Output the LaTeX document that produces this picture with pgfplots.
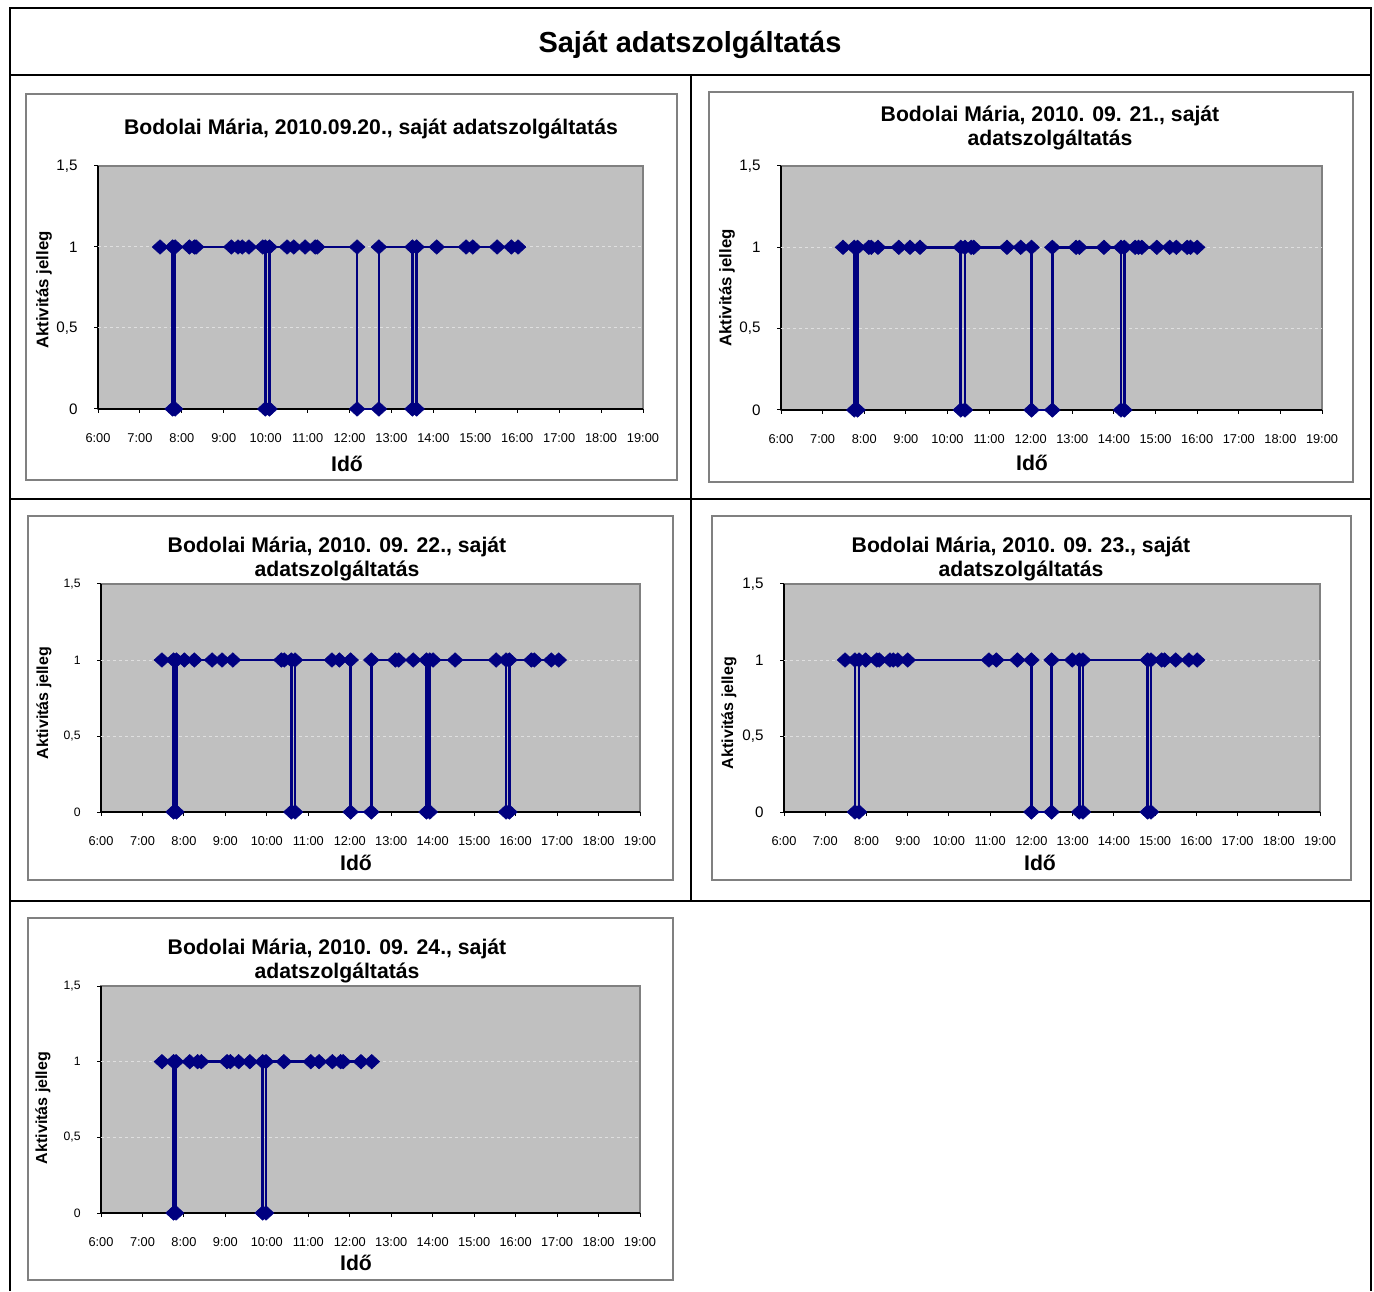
\documentclass[border=0pt]{standalone}
\usepackage{fontspec}
\setmainfont{Liberation Sans}
\usepackage{pgfplots}
\pgfplotsset{compat=1.18}
\definecolor{navy}{HTML}{000080}
\definecolor{plotgray}{HTML}{C0C0C0}
\definecolor{bordergray}{HTML}{808080}
\pgfplotsset{
  chart/.style={
    scale only axis,
    anchor=south west,
    clip=false,
    xmin=6, xmax=19, ymin=0, ymax=1.5,
    axis lines=left,
    axis line style={-, black, line width=0.7pt},
    axis background/.style={fill=plotgray, draw=bordergray, line width=1pt},
    xtick={6,7,8,9,10,11,12,13,14,15,16,17,18,19},
    xticklabels={6:00,7:00,8:00,9:00,10:00,11:00,12:00,13:00,14:00,15:00,16:00,17:00,18:00,19:00},
    ytick={0,0.5,1,1.5},
    yticklabels={0,{0,5},1,{1,5}},
    extra y ticks={0.5,1},
    extra y tick labels={},
    extra y tick style={ymajorgrids=true, major tick length=0pt},
    grid style={draw=white!75!gray, line width=0.5pt, dash pattern=on 1.5pt off 1.5pt},
    tick align=outside,
    major tick length=2pt,
    tick style={black, line width=0.5pt},
    /pgf/number format/assume math mode=true,
    xticklabel style={font=\fontsize{6.4}{7}\selectfont, anchor=center, yshift=-12.5pt},
  },
  bigy/.style={yticklabel style={font=\fontsize{7.6}{9}\selectfont, anchor=east, inner sep=0pt, xshift=-8pt}},
  smally/.style={yticklabel style={font=\fontsize{6.1}{7}\selectfont, anchor=east, inner sep=0pt, xshift=-8pt}},
  series/.style={navy, line width=1.3pt, mark=diamond*, mark size=3.6pt,
    mark options={xscale=1.45, solid, line width=0.3pt, fill=navy, draw=navy}},
}
\begin{document}
\begin{tikzpicture}[x=0.5pt, y=0.5pt]
\useasboundingbox (0,0) rectangle (1374,1291);
\coordinate (A1) at (98,882);
\coordinate (A2) at (781,881);
\coordinate (A3) at (101,479);
\coordinate (A4) at (784,479);
\coordinate (A5) at (101,78);
% table frame
\draw[black, line width=1pt] (10,0) -- (10,1283) -- (1371,1283) -- (1371,0);
\draw[black, line width=1pt] (10,1216) -- (1371,1216);
\draw[black, line width=1pt] (10,792) -- (1371,792);
\draw[black, line width=1pt] (10,390) -- (1371,390);
\draw[black, line width=1pt] (691,1216) -- (691,390);
\node[font=\bfseries\fontsize{14.5}{17}\selectfont] at (690,1246) {Saját adatszolgáltatás};
% chart boxes
\draw[bordergray, line width=0.7pt] (26,811) rectangle (677,1197);
\draw[bordergray, line width=0.7pt] (709,809) rectangle (1353,1199);
\draw[bordergray, line width=0.7pt] (28,411) rectangle (673,775);
\draw[bordergray, line width=0.7pt] (712,411) rectangle (1351,775);
\draw[bordergray, line width=0.7pt] (28,11) rectangle (673,373);

% ---- Chart 1 ----
\begin{axis}[chart, bigy, at={(A1)}, width=272.5pt, height=121.5pt]
\addplot[series] coordinates {
(7.48,1) (7.78,1) (7.78,0) (7.84,0) (7.84,1) (8.18,1) (8.30,1) (8.34,1)
(9.18,1) (9.34,1) (9.44,1) (9.60,1) (9.93,1) (9.99,1) (9.99,0) (10.09,0) (10.09,1)
(10.51,1) (10.67,1) (10.94,1) (11.18,1) (11.23,1)
(12.18,1) (12.18,0) (12.70,0) (12.70,1)
(13.50,1) (13.50,0) (13.60,0) (13.60,1)
(14.08,1) (14.78,1) (14.94,1) (15.52,1) (15.86,1) (16.02,1)
};
\end{axis}
\node[font=\bfseries\fontsize{10.6}{12}\selectfont] at (371,1162) {Bodolai Mária, 2010.09.20., saját adatszolgáltatás};
\node[font=\bfseries\fontsize{10.6}{12}\selectfont] at (347,827) {Idő};
\node[font=\bfseries\fontsize{8.4}{10}\selectfont, rotate=90] at (44,1001) {Aktivitás jelleg};

% ---- Chart 2 ----
\begin{axis}[chart, bigy, at={(A2)}, width=270.5pt, height=122pt]
\addplot[series] coordinates {
(7.49,1) (7.76,1) (7.76,0) (7.84,0) (7.84,1) (8.11,1) (8.17,1) (8.33,1) (8.83,1) (9.10,1) (9.34,1)
(10.32,1) (10.32,0) (10.42,0) (10.42,1) (10.57,1) (10.63,1) (11.43,1) (11.76,1)
(12.02,1) (12.02,0) (12.52,0) (12.52,1) (13.09,1) (13.17,1) (13.76,1)
(14.17,1) (14.17,0) (14.25,0) (14.25,1) (14.51,1) (14.59,1) (14.67,1) (15.03,1) (15.34,1)
(15.50,1) (15.76,1) (15.84,1) (16.00,1)
};
\end{axis}
\node[font=\bfseries\fontsize{10.6}{12}\selectfont, align=center] at (1050,1163) {Bodolai Mária, 2010. 09. 21., saját\\adatszolgáltatás};
\node[font=\bfseries\fontsize{10.6}{12}\selectfont] at (1032,828) {Idő};
\node[font=\bfseries\fontsize{8.4}{10}\selectfont, rotate=90] at (727,1003) {Aktivitás jelleg};

% ---- Chart 3 ----
\begin{axis}[chart, smally, at={(A3)}, width=269.5pt, height=114pt]
\addplot[series] coordinates {
(7.47,1) (7.75,1) (7.75,0) (7.82,0) (7.82,1) (8.01,1) (8.25,1) (8.68,1) (8.92,1) (9.18,1)
(10.35,1) (10.42,1) (10.59,1) (10.59,0) (10.68,0) (10.68,1) (11.57,1) (11.75,1)
(12.02,1) (12.02,0) (12.52,0) (12.52,1) (13.10,1) (13.18,1) (13.53,1)
(13.85,1) (13.85,0) (13.93,0) (13.93,1) (14.01,1) (14.54,1)
(15.53,1) (15.77,1) (15.77,0) (15.85,0) (15.85,1) (16.38,1) (16.45,1) (16.86,1) (17.04,1)
};
\end{axis}
\node[font=\bfseries\fontsize{10.6}{12}\selectfont, align=center] at (337,732) {Bodolai Mária, 2010. 09. 22., saját\\adatszolgáltatás};
\node[font=\bfseries\fontsize{10.6}{12}\selectfont] at (356,428) {Idő};
\node[font=\bfseries\fontsize{8}{10}\selectfont, rotate=90] at (44,588) {Aktivitás jelleg};

% ---- Chart 4 ----
\begin{axis}[chart, bigy, at={(A4)}, width=268pt, height=114pt]
\addplot[series] coordinates {
(7.48,1) (7.72,1) (7.72,0) (7.82,0) (7.82,1) (7.98,1) (8.25,1) (8.31,1) (8.57,1) (8.65,1) (8.76,1) (9.00,1)
(10.97,1) (11.15,1) (11.66,1) (12.00,1) (12.00,0) (12.49,0) (12.49,1) (12.99,1)
(13.16,1) (13.16,0) (13.25,0) (13.25,1)
(14.82,1) (14.82,0) (14.90,0) (14.90,1) (15.16,1) (15.23,1) (15.50,1) (15.82,1) (16.02,1)
};
\end{axis}
\node[font=\bfseries\fontsize{10.6}{12}\selectfont, align=center] at (1021,732) {Bodolai Mária, 2010. 09. 23., saját\\adatszolgáltatás};
\node[font=\bfseries\fontsize{10.6}{12}\selectfont] at (1040,428) {Idő};
\node[font=\bfseries\fontsize{8}{10}\selectfont, rotate=90] at (729,578) {Aktivitás jelleg};

% ---- Chart 5 ----
\begin{axis}[chart, smally, at={(A5)}, width=269.5pt, height=113.5pt]
\addplot[series] coordinates {
(7.47,1) (7.75,1) (7.75,0) (7.81,0) (7.81,1) (8.14,1) (8.33,1) (8.42,1)
(9.04,1) (9.12,1) (9.32,1) (9.59,1) (9.90,1) (9.90,0) (9.98,0) (9.98,1)
(10.41,1) (11.06,1) (11.26,1) (11.58,1) (11.78,1) (11.84,1) (12.27,1) (12.53,1)
};
\end{axis}
\node[font=\bfseries\fontsize{10.6}{12}\selectfont, align=center] at (337,330) {Bodolai Mária, 2010. 09. 24., saját\\adatszolgáltatás};
\node[font=\bfseries\fontsize{10.6}{12}\selectfont] at (356,28) {Idő};
\node[font=\bfseries\fontsize{8}{10}\selectfont, rotate=90] at (43,183) {Aktivitás jelleg};
\end{tikzpicture}
\end{document}
